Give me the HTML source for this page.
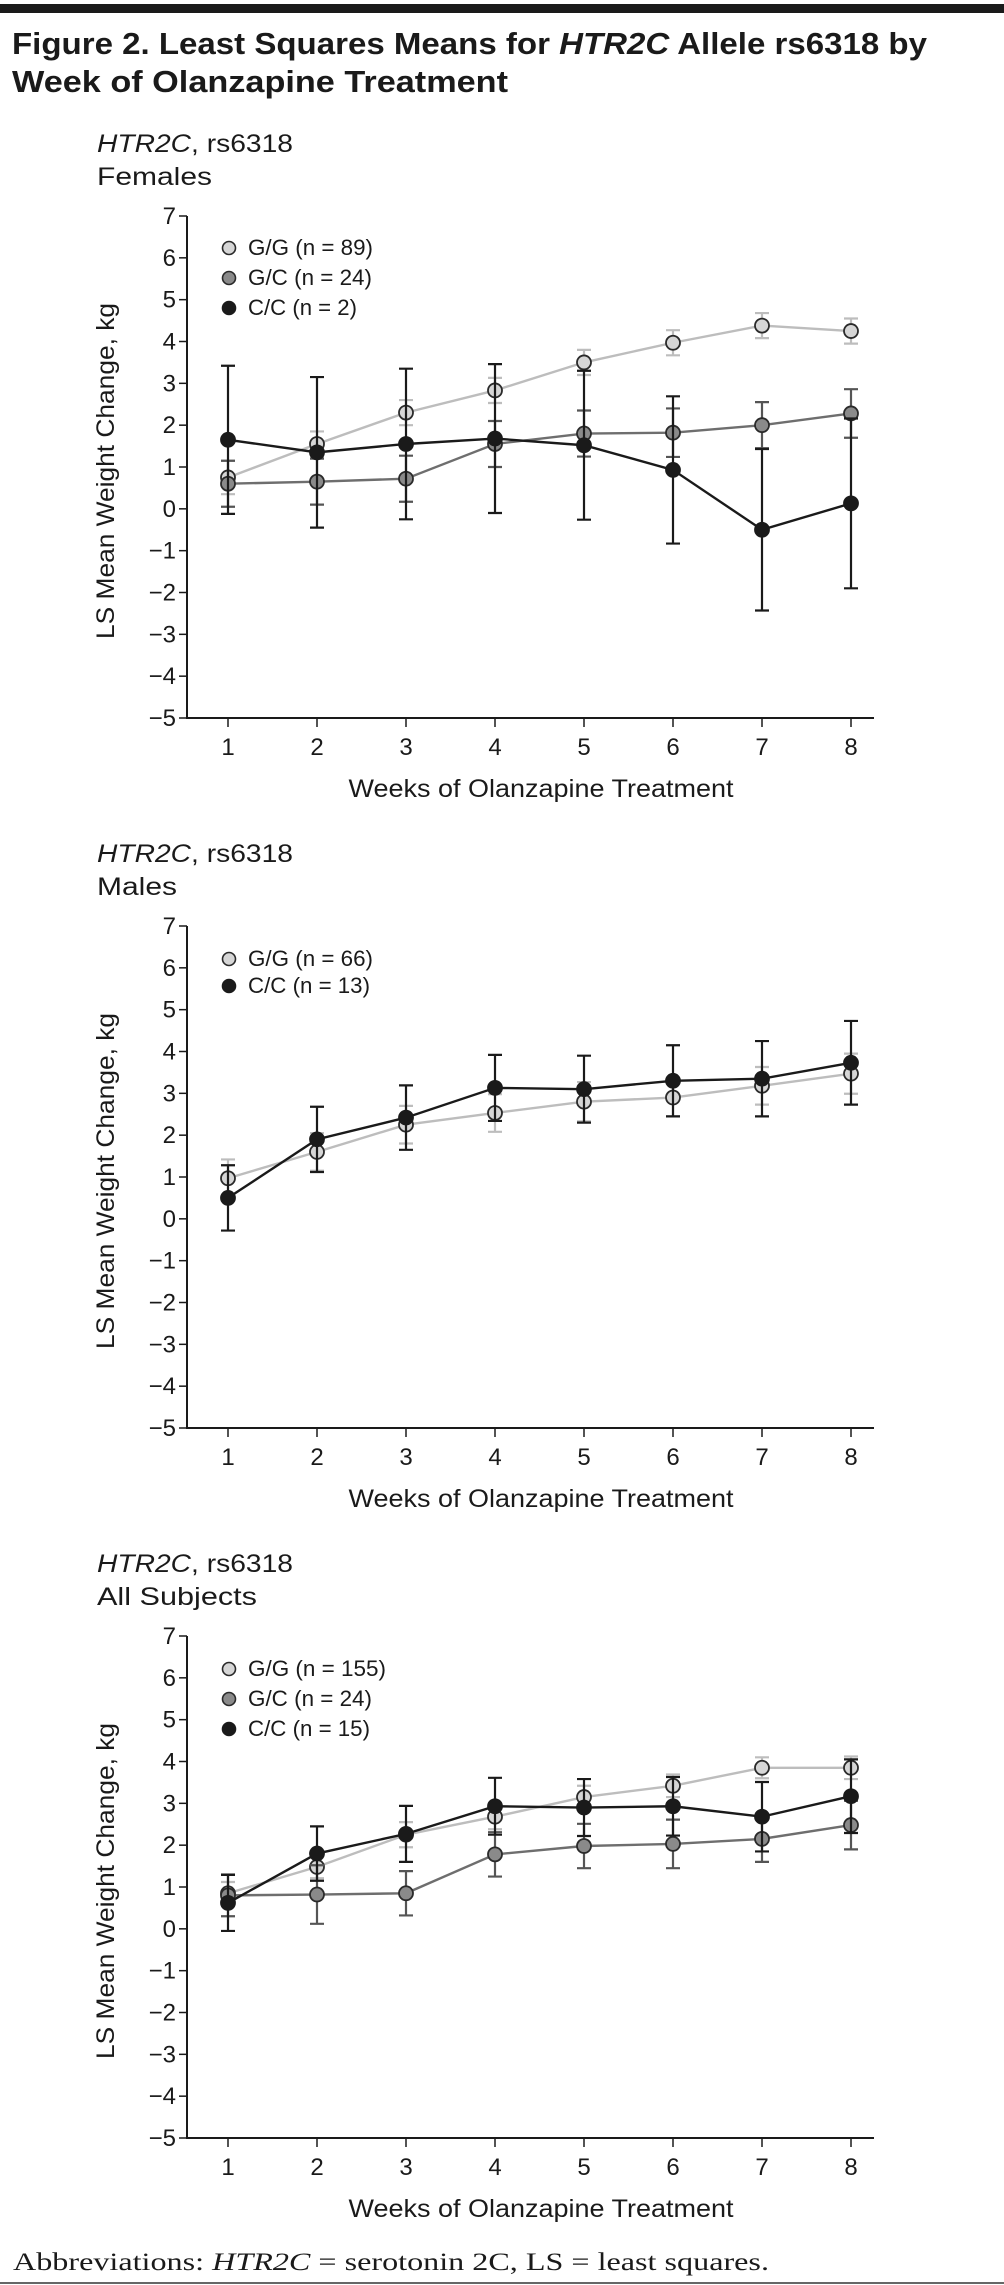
<!DOCTYPE html>
<html><head><meta charset="utf-8"><style>
html,body{margin:0;padding:0;background:#fff;}
svg{display:block;font-family:"Liberation Sans",sans-serif;}
</style></head><body>
<svg id="fig" width="1004" height="2285" viewBox="0 0 1004 2285" xmlns="http://www.w3.org/2000/svg">
<rect x="0" y="4" width="1004" height="9" fill="#1a1a1a"/>
<text x="12" y="54" font-size="31" font-weight="bold" fill="#1a1a1a" textLength="915" lengthAdjust="spacingAndGlyphs">Figure 2. Least Squares Means for <tspan font-style="italic">HTR2C</tspan> Allele rs6318 by</text>
<text x="12" y="92" font-size="31" font-weight="bold" fill="#1a1a1a" textLength="496" lengthAdjust="spacingAndGlyphs">Week of Olanzapine Treatment</text>
<text x="13" y="2270" font-family="Liberation Serif, serif" font-size="25" fill="#1a1a1a" textLength="756" lengthAdjust="spacingAndGlyphs">Abbreviations: <tspan font-style="italic">HTR2C</tspan> = serotonin 2C, LS = least squares.</text>
<line x1="0" y1="2283" x2="1004" y2="2283" stroke="#333" stroke-width="1.5"/>
</svg>
<script>
const weeks = [1,2,3,4,5,6,7,8];
const yTicks = [7,6,5,4,3,2,1,0,-1,-2,-3,-4,-5];
const yTickLabels = ["7","6","5","4","3","2","1","0","\u22121","\u22122","\u22123","\u22124","\u22125"];
// Females
const femGG = [0.75,1.55,2.3,2.83,3.5,3.97,4.38,4.25];
const femGGerr = [0.4,0.3,0.3,0.3,0.3,0.3,0.3,0.3];
const femGC = [0.6,0.65,0.72,1.55,1.8,1.82,2.0,2.28];
const femGCerr = [0.55,0.55,0.55,0.55,0.55,0.58,0.55,0.58];
const femCC = [1.65,1.35,1.55,1.68,1.52,0.93,-0.5,0.13];
const femCCerr = [1.77,1.8,1.8,1.78,1.78,1.76,1.93,2.03];
// Males
const malGG = [0.97,1.6,2.25,2.53,2.8,2.9,3.18,3.47];
const malGGerr = [0.45,0.45,0.45,0.45,0.47,0.45,0.45,0.48];
const malCC = [0.5,1.9,2.42,3.13,3.1,3.3,3.35,3.73];
const malCCerr = [0.78,0.78,0.77,0.79,0.8,0.85,0.9,1.0];
// All subjects
const allGG = [0.85,1.48,2.25,2.68,3.15,3.42,3.85,3.85];
const allGGerr = [0.27,0.27,0.3,0.3,0.27,0.27,0.25,0.27];
const allGC = [0.8,0.82,0.85,1.78,1.98,2.03,2.15,2.48];
const allGCerr = [0.5,0.7,0.53,0.53,0.53,0.58,0.55,0.58];
const allCC = [0.62,1.8,2.27,2.93,2.9,2.93,2.68,3.17];
const allCCerr = [0.67,0.65,0.67,0.68,0.68,0.7,0.83,0.88];

const NS = "http://www.w3.org/2000/svg";
const svg = document.getElementById('fig');
function mk(tag, attrs, parent){const e=document.createElementNS(NS,tag);for(const k in attrs)e.setAttribute(k,attrs[k]);(parent||svg).appendChild(e);return e;}

const STY = {
  GG:{line:"#bdbdbd", fill:"#d6d6d6", stroke:"#2a2a2a", err:"#bdbdbd"},
  GC:{line:"#6e6e6e", fill:"#8a8a8a", stroke:"#2a2a2a", err:"#555"},
  CC:{line:"#1a1a1a", fill:"#1a1a1a", stroke:"#1a1a1a", err:"#1a1a1a"}
};

function chart(cfg){
  const top = cfg.top, bottom = top + 502;
  const x0 = 228, x1 = 851;
  const X = w => x0 + (w - weeks[0]) * (x1 - x0) / (weeks[weeks.length-1] - weeks[0]);
  const Y = v => top + (7 - v) * (bottom - top) / 12;
  const g = mk('g', {});
  
  
  let t = mk('text', {x:97, y:top-64, 'font-size':25, fill:'#1a1a1a', textLength:196, lengthAdjust:'spacingAndGlyphs'}, g);
  t.innerHTML = '<tspan font-style="italic">HTR2C</tspan>, rs6318';
  
  
  t = mk('text', {x:97, y:top-31, 'font-size':25, fill:'#1a1a1a', textLength:cfg.groupW, lengthAdjust:'spacingAndGlyphs'}, g);
  t.textContent = cfg.group;
  
  
  let a = mk('line', {x1:187, y1:top, x2:187, y2:bottom, stroke:'#1a1a1a', 'stroke-width':2}, g);
  
  
  a = mk('line', {x1:186, y1:bottom, x2:874, y2:bottom, stroke:'#1a1a1a', 'stroke-width':2}, g);
  
  
  yTicks.forEach((v,i)=>{
    const tk = mk('line', {x1:179, y1:Y(v), x2:187, y2:Y(v), stroke:'#1a1a1a', 'stroke-width':1.5}, g);
    
    
    const lb = mk('text', {x:176, y:Y(v)+8, 'font-size':24, 'text-anchor':'end', fill:'#1a1a1a'}, g);
    lb.textContent = yTickLabels[i];
    
    
  });
  weeks.forEach(w=>{
    const tk = mk('line', {x1:X(w), y1:bottom, x2:X(w), y2:bottom+9, stroke:'#1a1a1a', 'stroke-width':1.5}, g);
    
    
    const lb = mk('text', {x:X(w), y:bottom+37, 'font-size':24, 'text-anchor':'middle', fill:'#1a1a1a'}, g);
    lb.textContent = String(w);
    
    
  });
  const yl = mk('text', {x:0, y:0, 'font-size':25, 'text-anchor':'middle', fill:'#1a1a1a', transform:`translate(114,${(top+bottom)/2+4}) rotate(-90)`, textLength:336, lengthAdjust:'spacingAndGlyphs'}, g);
  yl.textContent = 'LS Mean Weight Change, kg';
  
  
  const xl = mk('text', {x:541, y:bottom+79, 'font-size':25, 'text-anchor':'middle', fill:'#1a1a1a', textLength:385, lengthAdjust:'spacingAndGlyphs'}, g);
  xl.textContent = 'Weeks of Olanzapine Treatment';
  
  
  cfg.series.forEach(s=>{
    const st = STY[s.key];
    const sg = mk('g', {}, g);
    
    
    s.vals.forEach((v,i)=>{
      const x = X(weeks[i]), hi = Y(v + s.err[i]), lo = Y(v - s.err[i]);
      const eb = mk('path', {d:`M${x},${hi}V${lo}M${x-7},${hi}H${x+7}M${x-7},${lo}H${x+7}`, stroke:st.err, 'stroke-width':2.2, fill:'none'}, sg);
      
      
    });
    const pl = mk('polyline', {points:s.vals.map((v,i)=>X(weeks[i])+','+Y(v)).join(' '), stroke:st.line, 'stroke-width':2.4, fill:'none'}, sg);
    
    
    s.vals.forEach((v,i)=>{
      const c = mk('circle', {cx:X(weeks[i]), cy:Y(v), r:7, fill:st.fill, stroke:st.stroke, 'stroke-width':1.8}, sg);
      
      
    });
  });
  cfg.legend.forEach((l,i)=>{
    const st = STY[l.key];
    const ly = top + l.dy;
    const lg = mk('g', {}, g);
    
    
    mk('circle', {cx:229, cy:ly, r:6.5, fill:st.fill, stroke:st.stroke, 'stroke-width':1.6}, lg);
    const lt = mk('text', {x:248, y:ly+7, 'font-size':22, fill:'#1a1a1a', textLength:l.w, lengthAdjust:'spacingAndGlyphs'}, lg);
    lt.textContent = l.label;
  });
}

chart({name:'chart-females', top:216, group:'Females', groupW:115,
  series:[{key:'GG',vals:femGG,err:femGGerr},{key:'GC',vals:femGC,err:femGCerr},{key:'CC',vals:femCC,err:femCCerr}],
  legend:[{key:'GG',label:'G/G (n = 89)',dy:32,w:125},{key:'GC',label:'G/C (n = 24)',dy:62,w:124},{key:'CC',label:'C/C (n = 2)',dy:92,w:109}]});
chart({name:'chart-males', top:926, group:'Males', groupW:80,
  series:[{key:'GG',vals:malGG,err:malGGerr},{key:'CC',vals:malCC,err:malCCerr}],
  legend:[{key:'GG',label:'G/G (n = 66)',dy:33,w:125},{key:'CC',label:'C/C (n = 13)',dy:60,w:122}]});
chart({name:'chart-all-subjects', top:1636, group:'All Subjects', groupW:160,
  series:[{key:'GG',vals:allGG,err:allGGerr},{key:'GC',vals:allGC,err:allGCerr},{key:'CC',vals:allCC,err:allCCerr}],
  legend:[{key:'GG',label:'G/G (n = 155)',dy:33,w:138},{key:'GC',label:'G/C (n = 24)',dy:63,w:124},{key:'CC',label:'C/C (n = 15)',dy:93,w:122}]});
</script>
</body></html>
